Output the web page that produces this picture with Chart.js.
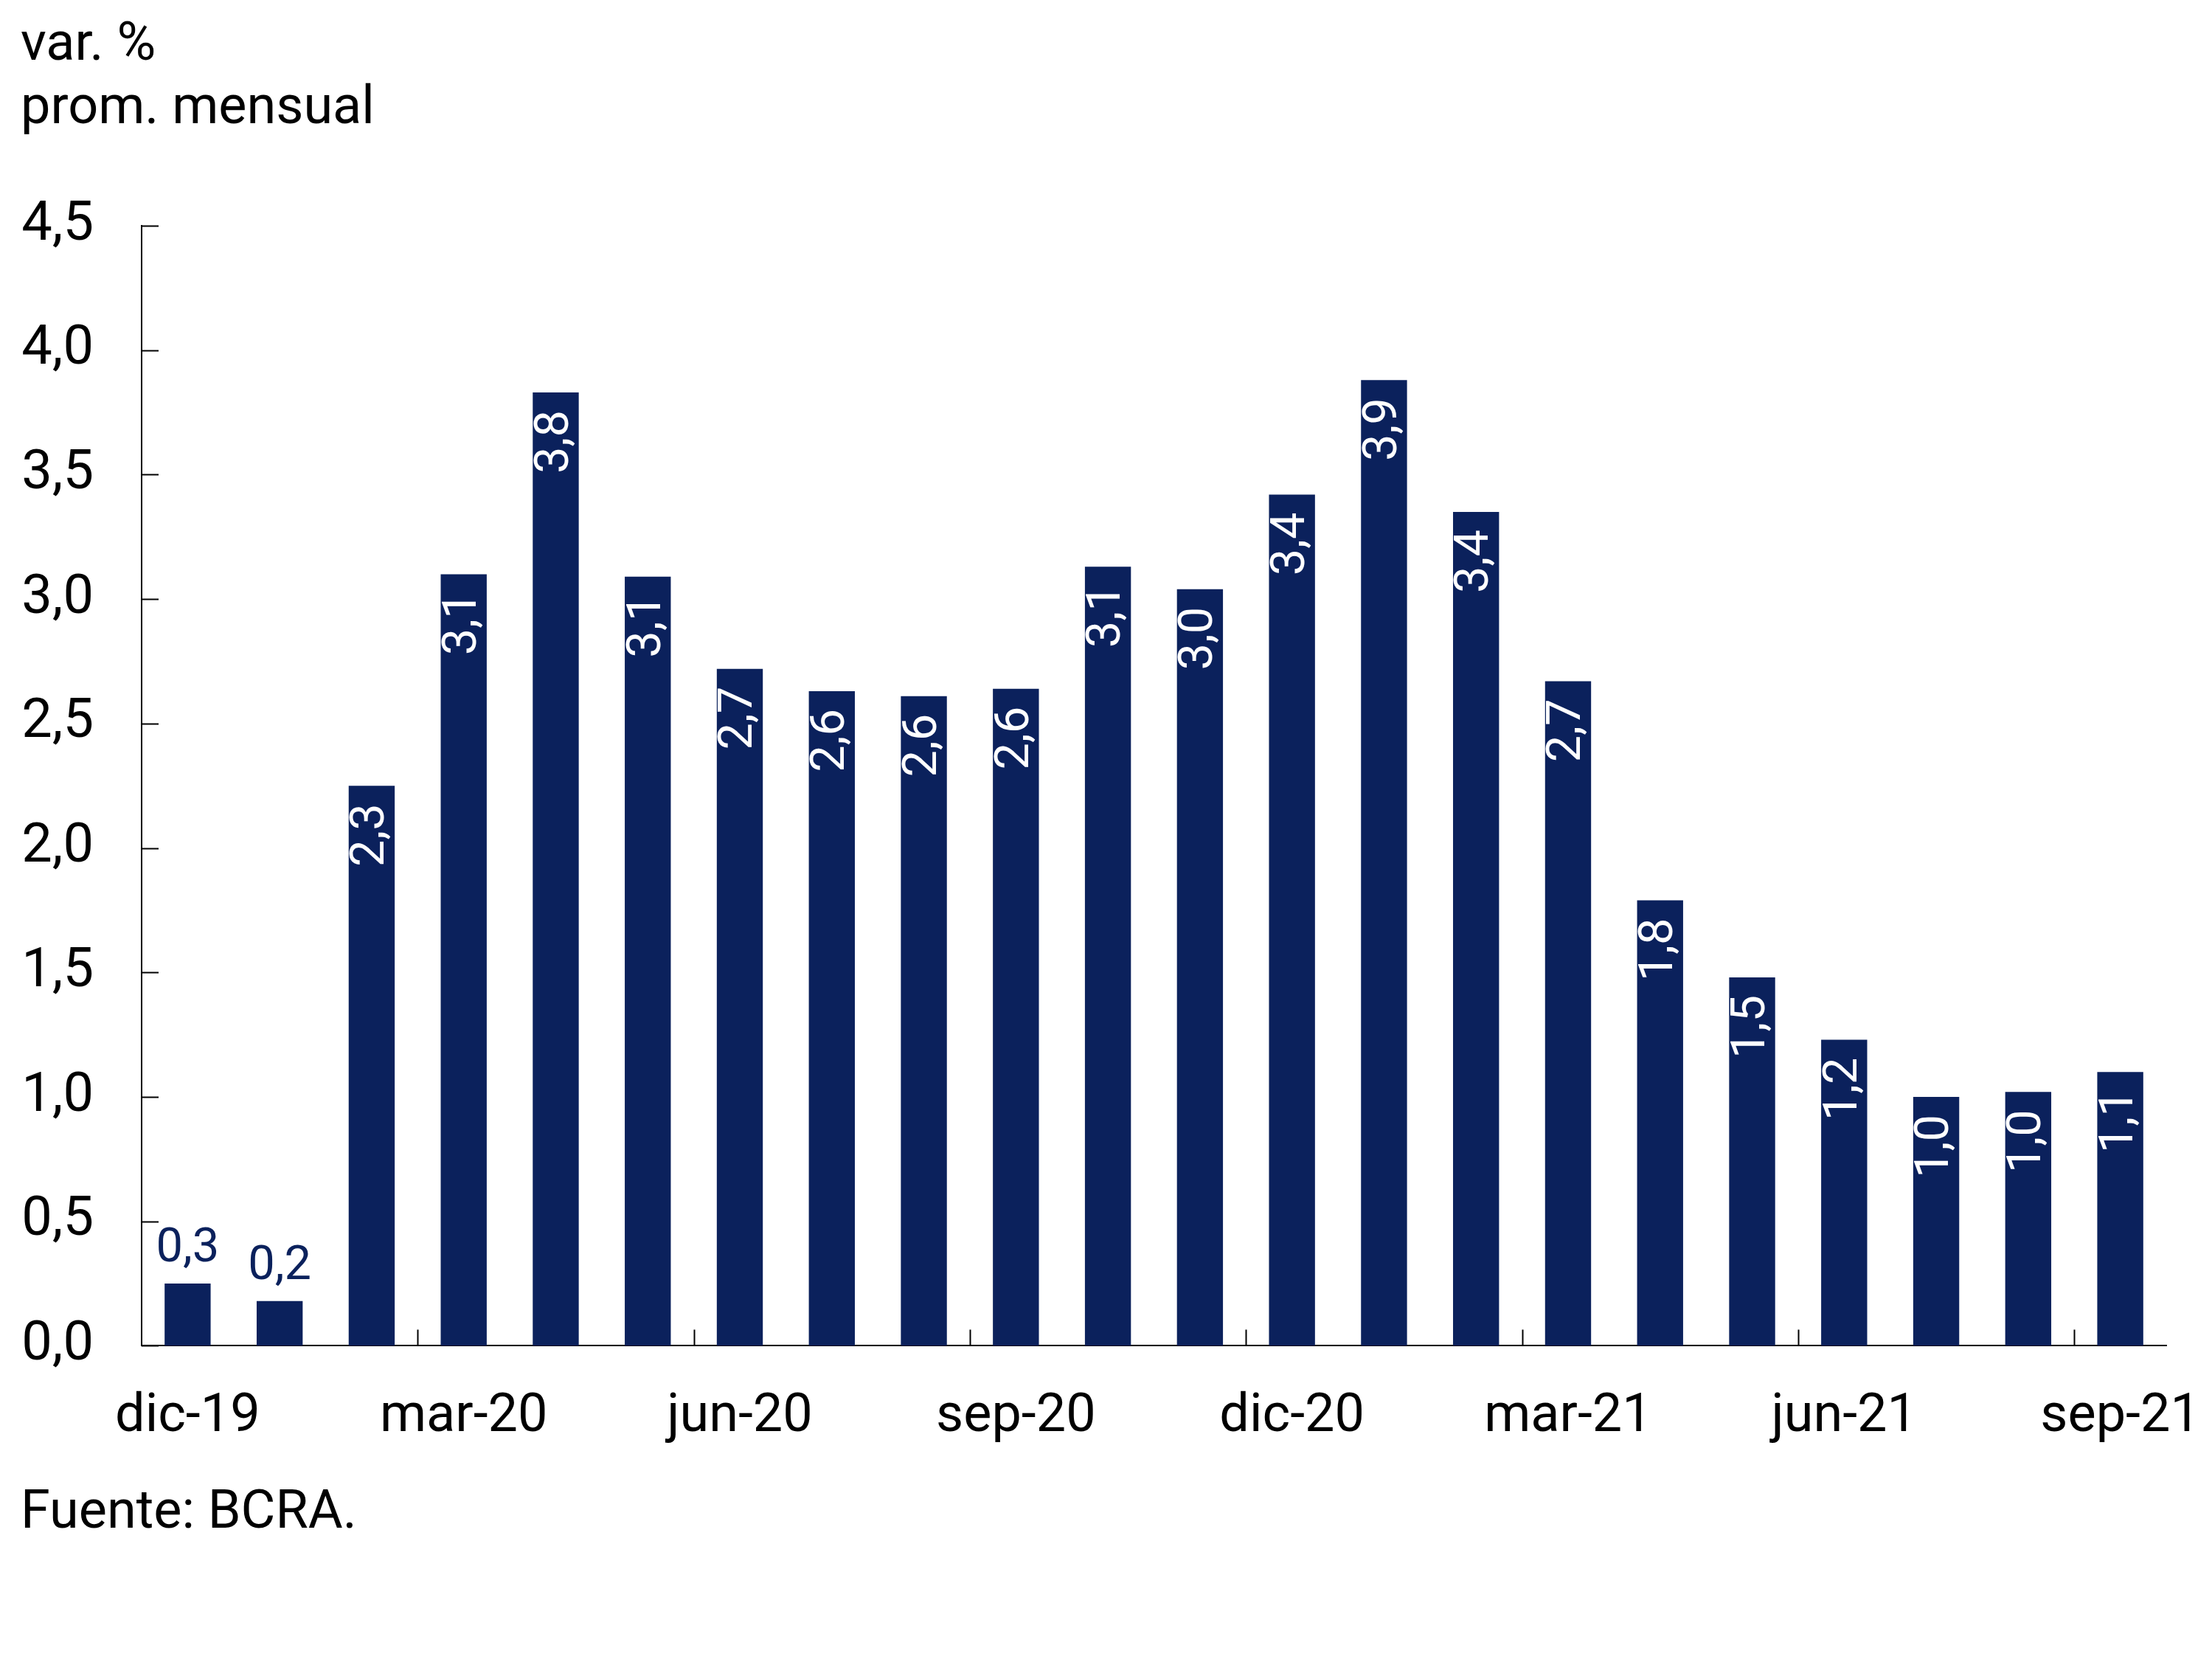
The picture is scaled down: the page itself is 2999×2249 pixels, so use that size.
<!DOCTYPE html>
<html lang="es">
<head>
<meta charset="utf-8">
<title>var. % prom. mensual</title>
<script src="https://cdn.jsdelivr.net/npm/chart.js@4.4.1/dist/chart.umd.min.js"></script>
<style>
    html, body { margin: 0; padding: 0; background: #fff; }
    #contenedor { width: 2999px; height: 2249px; position: relative; }
</style>
</head>
<body>
<div id="contenedor"><canvas id="grafico"></canvas></div>
<script>
const meses = ['dic-19', 'ene-20', 'feb-20', 'mar-20', 'abr-20', 'may-20', 'jun-20', 'jul-20',
    'ago-20', 'sep-20', 'oct-20', 'nov-20', 'dic-20', 'ene-21', 'feb-21', 'mar-21',
    'abr-21', 'may-21', 'jun-21', 'jul-21', 'ago-21', 'sep-21'];
const valores = [0.25, 0.18, 2.25, 3.10, 3.83, 3.09, 2.72, 2.63, 2.61, 2.64, 3.13,
    3.04, 3.42, 3.88, 3.35, 2.67, 1.79, 1.48, 1.23, 1.00, 1.02, 1.10];
const etiquetas = ['0,3', '0,2', '2,3', '3,1', '3,8', '3,1', '2,7', '2,6', '2,6', '2,6', '3,1',
    '3,0', '3,4', '3,9', '3,4', '2,7', '1,8', '1,5', '1,2', '1,0', '1,0', '1,1'];
const ticksY = [0, 0.5, 1, 1.5, 2, 2.5, 3, 3.5, 4, 4.5];

const AZUL = '#0b215c';
const NEGRO = '#000000';

Chart.defaults.font.family = 'Roboto';
Chart.defaults.color = NEGRO;

// marcas hacia adentro en ambos ejes (cada 3 meses en el eje x)
const marcasEjes = {
    id: 'marcasEjes',
    afterDraw(chart) {
        const ctx = chart.ctx;
        const area = chart.chartArea;
        const x = chart.scales.x;
        const y = chart.scales.y;
        ctx.save();
        ctx.strokeStyle = NEGRO;
        ctx.lineWidth = 2;
        ctx.beginPath();
        y.ticks.forEach(t => {
            const py = Math.round(y.getPixelForValue(t.value)) + 0.5;
            ctx.moveTo(area.left, py);
            ctx.lineTo(area.left + 23, py);
        });
        for (let k = 3; k < meses.length; k += 3) {
            const px = Math.round((x.getPixelForValue(k - 1) + x.getPixelForValue(k)) / 2) + 0.5;
            ctx.moveTo(px, area.bottom);
            ctx.lineTo(px, area.bottom - 22);
        }
        ctx.stroke();
        ctx.restore();
    }
};

// etiquetas de valor: verticales dentro de la barra, horizontales arriba si la barra es chica
const etiquetasBarras = {
    id: 'etiquetasBarras',
    afterDatasetsDraw(chart) {
        const ctx = chart.ctx;
        const meta = chart.getDatasetMeta(0);
        ctx.save();
        ctx.font = '65px Roboto';
        meta.data.forEach((barra, i) => {
            if (valores[i] < 0.5) {
                ctx.fillStyle = AZUL;
                ctx.textAlign = 'center';
                ctx.textBaseline = 'alphabetic';
                ctx.fillText(etiquetas[i], barra.x, barra.y - 30);
            } else {
                ctx.save();
                ctx.translate(barra.x, barra.y + 24);
                ctx.rotate(-Math.PI / 2);
                ctx.fillStyle = '#ffffff';
                ctx.textAlign = 'right';
                ctx.textBaseline = 'middle';
                ctx.fillText(etiquetas[i], 0, 0);
                ctx.restore();
            }
        });
        ctx.restore();
    }
};

new Chart(document.getElementById('grafico'), {
    type: 'bar',
    data: {
        labels: meses,
        datasets: [{
            data: valores,
            backgroundColor: AZUL,
            borderWidth: 0,
            barPercentage: 0.5,
            categoryPercentage: 1
        }]
    },
    options: {
        responsive: true,
        maintainAspectRatio: false,
        devicePixelRatio: 1,
        animation: false,
        layout: { padding: { left: 28, right: 62, top: 20, bottom: 161 } },
        plugins: {
            legend: { display: false },
            tooltip: { enabled: false },
            title: {
                display: true,
                text: ['var. %', 'prom. mensual'],
                align: 'start',
                color: NEGRO,
                font: { size: 72, weight: 'normal', lineHeight: 86 / 72 },
                padding: { top: 0, bottom: 114 }
            },
            subtitle: {
                display: true,
                position: 'bottom',
                text: 'Fuente: BCRA.',
                align: 'start',
                color: NEGRO,
                font: { size: 72, weight: 'normal', lineHeight: 0.96 },
                padding: { top: 0, bottom: 0 }
            }
        },
        scales: {
            x: {
                offset: true,
                // el ultimo rotulo (sep-21) puede salir del area; no reservar espacio extra
                afterFit(escala) {
                    escala.paddingLeft = 0;
                    escala.paddingRight = 0;
                },
                grid: { display: false, drawTicks: false, tickLength: 0 },
                border: { display: true, color: NEGRO, width: 2 },
                ticks: {
                    autoSkip: false,
                    maxRotation: 0,
                    padding: 54,
                    font: { size: 72, lineHeight: 1.2 },
                    color: NEGRO,
                    callback: (v, i) => (i % 3 === 0 ? meses[i] : '')
                }
            },
            y: {
                min: 0,
                max: 4.5,
                afterFit(escala) { escala.width = 164; },
                afterBuildTicks(escala) { escala.ticks = ticksY.map(v => ({ value: v })); },
                grid: { display: false, drawTicks: false, tickLength: 0 },
                border: { display: true, color: NEGRO, width: 2 },
                ticks: {
                    padding: 65,
                    font: { size: 74, lineHeight: 1.2 },
                    color: NEGRO,
                    callback: v => v.toFixed(1).replace('.', ',')
                }
            }
        }
    },
    plugins: [marcasEjes, etiquetasBarras]
});
</script>
</body>
</html>
